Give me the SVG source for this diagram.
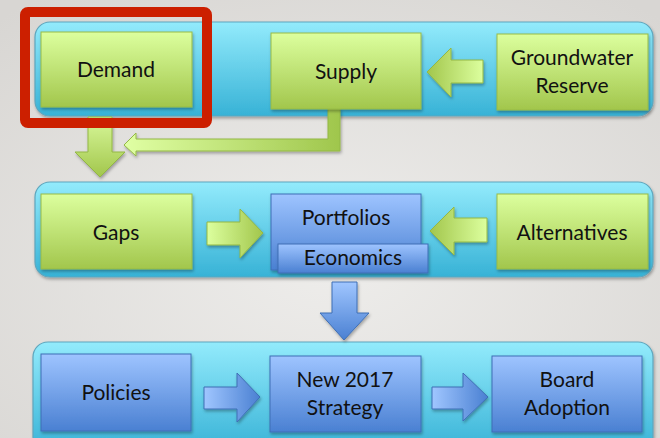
<svg xmlns="http://www.w3.org/2000/svg" width="660" height="438" viewBox="0 0 660 438">
<defs>
<radialGradient id="bg" cx="0.5" cy="0.6" r="0.75">
<stop offset="0" stop-color="#eeedeb"/>
<stop offset="1" stop-color="#d8d6d3"/>
</radialGradient>
<linearGradient id="band" x1="0" y1="0" x2="0" y2="1">
<stop offset="0" stop-color="#93ebfc"/>
<stop offset="1" stop-color="#37b2d6"/>
</linearGradient>
<linearGradient id="green" x1="0" y1="0" x2="0" y2="1">
<stop offset="0" stop-color="#dcff9e"/>
<stop offset="1" stop-color="#a2c64c"/>
</linearGradient>
<linearGradient id="blue" x1="0" y1="0" x2="0" y2="1">
<stop offset="0" stop-color="#9ec4ff"/>
<stop offset="1" stop-color="#4a80d2"/>
</linearGradient>
<linearGradient id="gR" x1="0" y1="0" x2="1" y2="0">
<stop offset="0" stop-color="#dcff9e"/>
<stop offset="1" stop-color="#a2c64c"/>
</linearGradient>
<linearGradient id="gL" x1="1" y1="0" x2="0" y2="0">
<stop offset="0" stop-color="#dcff9e"/>
<stop offset="1" stop-color="#a2c64c"/>
</linearGradient>
<linearGradient id="gD" x1="0" y1="0" x2="0" y2="1">
<stop offset="0" stop-color="#d8f89a"/>
<stop offset="1" stop-color="#a2c64c"/>
</linearGradient>
<linearGradient id="gConn" x1="124" y1="0" x2="341" y2="0" gradientUnits="userSpaceOnUse">
<stop offset="0" stop-color="#e0ffa4"/>
<stop offset="1" stop-color="#9fc64c"/>
</linearGradient>
<linearGradient id="bR" x1="0" y1="0" x2="1" y2="0">
<stop offset="0" stop-color="#a0c6ff"/>
<stop offset="1" stop-color="#4a80d2"/>
</linearGradient>
<linearGradient id="bD" x1="0" y1="0" x2="0" y2="1">
<stop offset="0" stop-color="#a0c6ff"/>
<stop offset="1" stop-color="#4a80d2"/>
</linearGradient>
<filter id="sh" x="-10%" y="-10%" width="125%" height="130%">
<feDropShadow dx="1" dy="2" stdDeviation="1.5" flood-color="#000" flood-opacity="0.3"/>
</filter>
</defs>
<style>
.band{fill:url(#band);stroke:#5fa6bd;stroke-width:1.2;filter:url(#sh)}
.gbox{fill:url(#green);stroke:#97bb48;stroke-width:1;filter:url(#sh)}
.bbox{fill:url(#blue);stroke:#3f6fb5;stroke-width:1;filter:url(#sh)}
.ga{stroke:#93b845;stroke-width:1;filter:url(#sh)}
.ba{stroke:#3f6fb5;stroke-width:1;filter:url(#sh)}
text{font-family:Lato,"Open Sans","Liberation Sans",sans-serif;font-size:21px;fill:#111;text-anchor:middle}
</style>
<rect width="660" height="438" fill="url(#bg)"/>

<g id="band-top"><rect class="band" x="35" y="22" width="618" height="94" rx="15"/></g>
<g id="band-middle"><rect class="band" x="35" y="182" width="618" height="95" rx="15"/></g>
<g id="band-bottom"><rect class="band" x="33" y="342" width="620" height="110" rx="15"/></g>

<g id="connectors">
<path class="ga" fill="url(#gD)" d="M88,117 H112 V152 H125 L100,177 L75,152 H88 Z"/>
<path class="ga" fill="url(#gConn)" d="M340,109 V151 H136 V156 L124,145 L136,133 V139 H328 V109 Z"/>
<path class="ga" fill="url(#gL)" d="M483,60 V83 H451 V97 L427,72 L451,48 V60 Z"/>
<path class="ga" fill="url(#gR)" d="M207,222 H240 V209 L263,233 L240,258 V245 H207 Z"/>
<path class="ga" fill="url(#gL)" d="M487,218 V242 H454 V255 L430,231 L454,207 V218 Z"/>
<path class="ba" fill="url(#bD)" d="M332,282 H357 V313 H369 L344,340 L320,313 H332 Z"/>
<path class="ba" fill="url(#bR)" d="M204,387 H237 V373 L260,397 L237,422 V409 H204 Z"/>
<path class="ba" fill="url(#bR)" d="M432,387 H463 V373 L488,397 L463,421 V409 H432 Z"/>
</g>

<g id="demand"><rect class="gbox" x="41" y="32" width="151" height="75"/><text x="116" y="77">Demand</text></g>
<g id="supply"><rect class="gbox" x="271" y="33" width="150" height="76"/><text x="346" y="79">Supply</text></g>
<g id="groundwater"><rect class="gbox" x="497" y="34" width="151" height="76"/><text x="572" y="65">Groundwater</text><text x="572" y="93">Reserve</text></g>

<g id="gaps"><rect class="gbox" x="41" y="194" width="151" height="75"/><text x="116" y="240">Gaps</text></g>
<g id="portfolios"><rect class="bbox" x="271" y="194" width="150" height="76"/><text x="346" y="225">Portfolios</text></g>
<g id="economics"><rect class="bbox" x="278" y="244" width="150" height="29"/><text x="353" y="265">Economics</text></g>
<g id="alternatives"><rect class="gbox" x="497" y="194" width="151" height="75"/><text x="572" y="240">Alternatives</text></g>

<g id="policies"><rect class="bbox" x="41" y="354" width="150" height="77"/><text x="116" y="400">Policies</text></g>
<g id="strategy"><rect class="bbox" x="270" y="356" width="151" height="76"/><text x="345" y="387">New 2017</text><text x="345" y="415">Strategy</text></g>
<g id="board"><rect class="bbox" x="492" y="356" width="150" height="76"/><text x="567" y="387">Board</text><text x="567" y="415">Adoption</text></g>

<g id="highlight"><rect x="25" y="12" width="182" height="111" rx="3" fill="none" stroke="#cc1f00" stroke-width="10"/></g>
</svg>
